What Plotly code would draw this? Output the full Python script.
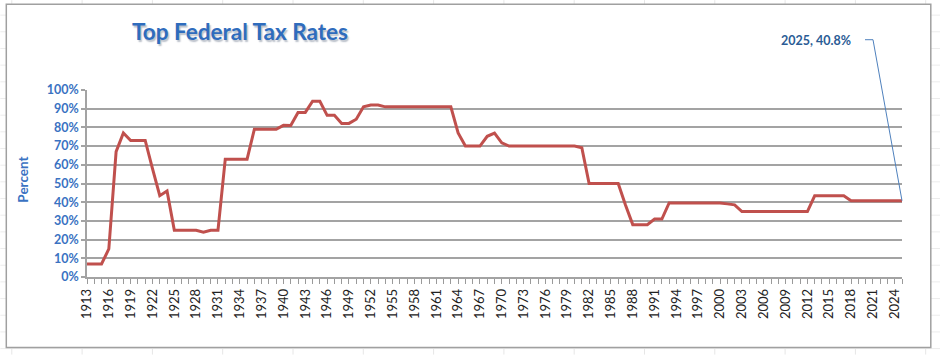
import plotly.graph_objects as go

# ---------------- data ----------------
years = list(range(1913, 2026))
rates = (
    [7, 7, 7, 15, 67, 77, 73, 73, 73, 58, 43.5, 46, 25, 25, 25, 25, 24, 25, 25]   # 1913-1931
    + [63, 63, 63, 63, 79, 79, 79, 79, 81.1, 81, 88, 88, 94, 94, 86.45, 86.45]     # 1932-1947
    + [82.13, 82.13, 84.36, 91, 92, 92, 91] + [91] * 9                              # 1948-1963
    + [77, 70, 70, 70, 75.25, 77, 71.75, 70] + [70] * 9 + [69.13]                   # 1964-1981
    + [50, 50, 50, 50, 50, 38.5, 28, 28, 28, 31, 31, 39.6] + [39.6] * 7            # 1982-2000
    + [39.1, 38.6, 35] + [35] * 9                                                   # 2001-2012
    + [43.4, 43.4, 43.4, 43.4, 43.4] + [40.8] * 8                                   # 2013-2025
)
assert len(years) == len(rates)
tick_years = years[::3]
tick_labels = [str(y) for y in tick_years]
y_ticks = list(range(0, 101, 10))
y_tick_labels = [f"{v}%" for v in y_ticks]
title_text = "Top Federal Tax Rates"
y_title = "Percent"
last_label = f"{years[-1]}, {rates[-1]}%"

# ---------------- layout geometry (pixels) ----------------
W, H = 940, 355
L, R, T, B = 86.7, 38.3, 90, 77.7
PW, PH = W - L - R, H - T - B
Y_MIN, Y_MAX = 0, 100


def px(xp):
    return (xp - L) / PW


def py(yp):
    return (H - B - yp) / PH


BLUE = "#3a72c2"
GRID = "#a3a3a3"

fig = go.Figure()
fig.add_trace(go.Scatter(
    x=years, y=rates, mode="lines",
    line=dict(color="#c0504d", width=3),
    hoverinfo="skip", showlegend=False,
))

shapes = []
# faint spreadsheet cell lines behind the chart frame
for i in range(14):
    xv = 11.5 + 70.3 * i
    shapes.append(dict(type="line", xref="paper", yref="paper",
                       x0=px(xv), x1=px(xv), y0=py(0), y1=py(H),
                       line=dict(color="#e6e6e6", width=1), layer="below"))
for j in range(23):
    yv = 15 + 16.7 * j
    shapes.append(dict(type="line", xref="paper", yref="paper",
                       x0=px(0), x1=px(W), y0=py(yv), y1=py(yv),
                       line=dict(color="#ececec", width=1), layer="below"))
# chart frame
shapes.append(dict(type="rect", xref="paper", yref="paper",
                   x0=px(6), x1=px(930.5), y0=py(4), y1=py(348),
                   line=dict(color="#a0a0a0", width=1.5),
                   fillcolor="white", layer="below"))
# leader line for the last-point label (anchored at the last data point)
last_xp = (years[-1] - years[0]) / (years[-1] - years[0])
last_yp = (rates[-1] - Y_MIN) / (Y_MAX - Y_MIN)
shapes.append(dict(type="path", xref="paper", yref="paper",
                   xsizemode="pixel", ysizemode="pixel",
                   xanchor=last_xp, yanchor=last_yp,
                   path="M -37,161 L -29,161 L 0,0",
                   line=dict(color="#4f81bd", width=1)))

annotations = [
    # title (with soft drop shadow)
    dict(text=f"<b>{title_text}</b>", xref="paper", yref="paper",
         x=px(240), y=py(31.5), xanchor="center", yanchor="middle",
         showarrow=False,
         font=dict(family="Lato", size=22.5, color="#2f6cbd",
                   shadow="1.5px 1.5px 1.5px #b8bec8")),
    # y-axis title
    dict(text=f"<b>{y_title}</b>", xref="paper", yref="paper",
         x=px(22.5), y=py(180), xanchor="center", yanchor="middle",
         textangle=-90, showarrow=False,
         font=dict(family="Lato", size=13.5, color=BLUE)),
    # last point label
    dict(text=f"<b>{last_label}</b>", xref="x", yref="y",
         x=years[-1], y=rates[-1], xanchor="right", yanchor="middle",
         xshift=-49, yshift=160, showarrow=False,
         font=dict(family="Lato", size=12.5, color="#2b5c95")),
]

fig.update_layout(
    width=W, height=H,
    margin=dict(l=L, r=R, t=T, b=B, pad=0),
    paper_bgcolor="white", plot_bgcolor="rgba(0,0,0,0)",
    shapes=shapes, annotations=annotations,
    showlegend=False,
)
fig.update_xaxes(
    range=[years[0], years[-1]],
    tickmode="array", tickvals=tick_years, ticktext=tick_labels,
    tickangle=-90, tickfont=dict(family="Lato", size=13, color="#222222"),
    ticks="outside", ticklen=5, tickcolor="#9a9a9a", tickwidth=1,
    minor=dict(tickmode="linear", tick0=years[0], dtick=1, ticks="outside",
               ticklen=5, tickcolor="#9a9a9a", tickwidth=1, showgrid=False),
    showgrid=False, showline=True, linecolor=GRID, linewidth=1.5,
    zeroline=False, fixedrange=True,
)
fig.update_yaxes(
    range=[Y_MIN, Y_MAX],
    tickmode="array", tickvals=y_ticks, ticktext=y_tick_labels,
    tickfont=dict(family="Lato", size=12.5, color=BLUE, weight="bold"),
    ticks="outside", ticklen=4, tickcolor=GRID, tickwidth=1.5,
    showgrid=True, gridcolor=GRID, gridwidth=1.5,
    showline=True, linecolor=GRID, linewidth=1.5,
    zeroline=False, fixedrange=True,
)

fig.write_html(
    "out.html",
    config={"displayModeBar": False},
    post_script="document.body.style.margin='0';document.body.style.overflow='hidden';",
)
